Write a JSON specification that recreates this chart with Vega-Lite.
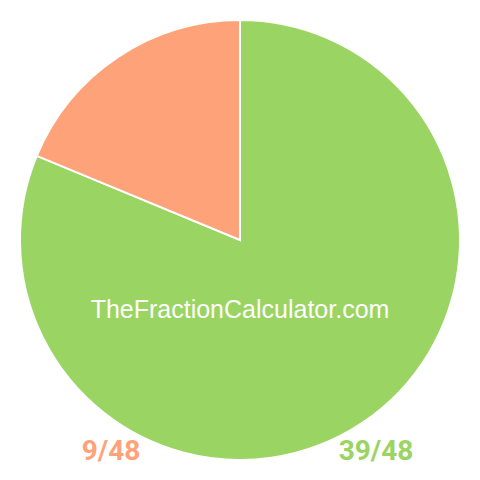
{
  "$schema": "https://vega.github.io/schema/vega-lite/v6.json",
  "width": 480,
  "height": 480,
  "padding": 0,
  "autosize": {"type": "none"},
  "background": "white",
  "config": {"view": {"stroke": null}},
  "data": {"values": [
    {"label": "39/48", "numerator": 39},
    {"label": "9/48", "numerator": 9}
  ]},
  "layer": [
    {
      "mark": {"type": "arc", "radius": 220, "stroke": "white", "strokeWidth": 2},
      "encoding": {
        "theta": {"field": "numerator", "type": "quantitative", "stack": true},
        "order": {"field": "numerator", "sort": "descending"},
        "color": {"field": "label", "type": "nominal", "scale": {"domain": ["39/48", "9/48"], "range": ["#9ad462", "#fea279"]}, "legend": null}
      }
    },
    {
      "mark": {"type": "text", "font": "Roboto", "fontWeight": "bold", "fontSize": 28, "baseline": "alphabetic", "align": "center", "dy": 220},
      "encoding": {
        "x": {"field": "label", "type": "nominal", "scale": {"type": "point", "domain": ["9/48", "39/48"], "range": [111, 376], "padding": 0}, "axis": null},
        "text": {"field": "label"},
        "color": {"field": "label", "type": "nominal", "legend": null}
      }
    },
    {
      "data": {"values": [{"site": "TheFractionCalculator.com"}]},
      "mark": {"type": "text", "font": "Liberation Sans", "fontSize": 25, "color": "white", "baseline": "alphabetic", "align": "center", "dy": 78},
      "encoding": {
        "text": {"field": "site"}
      }
    }
  ]
}
